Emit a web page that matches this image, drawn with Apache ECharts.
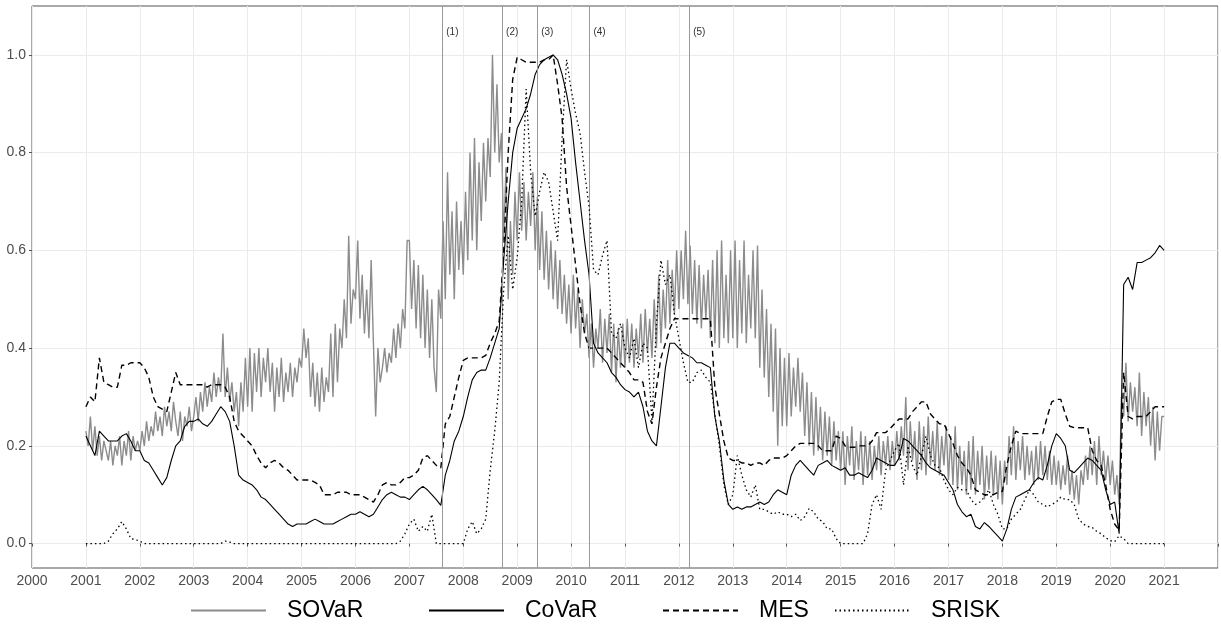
<!DOCTYPE html>
<html>
<head>
<meta charset="utf-8">
<title>SOVaR CoVaR MES SRISK</title>
<script src="https://cdn.jsdelivr.net/npm/echarts@6/dist/echarts.min.js"></script>
<style>
  html, body { margin: 0; padding: 0; background: #fff; }
  #main { width: 1221px; height: 629px; }
</style>
</head>
<body>
<div id="main"></div>
<script>
// series values
// SOVaR: 24 points per year from 2001.0, last point is 2021.0
var sovar = [
  0.23,0.20,0.26,0.19,0.24,0.18,0.22,0.17,0.21,0.19,0.17,0.21,0.16,0.20,0.18,0.22,0.16,0.21,0.18,0.23,0.17,0.22,0.19,0.21, // 2001
  0.19,0.23,0.20,0.25,0.21,0.24,0.22,0.27,0.23,0.26,0.22,0.28,0.24,0.27,0.23,0.29,0.25,0.22,0.27,0.21,0.26,0.24,0.28,0.23, // 2002
  0.26,0.30,0.25,0.31,0.27,0.33,0.28,0.32,0.29,0.35,0.30,0.34,0.31,0.43,0.30,0.36,0.29,0.33,0.27,0.31,0.24,0.33,0.27,0.38, // 2003
  0.28,0.40,0.27,0.39,0.31,0.40,0.30,0.38,0.33,0.40,0.31,0.37,0.27,0.36,0.30,0.38,0.29,0.35,0.31,0.37,0.30,0.36,0.33,0.38, // 2004
  0.36,0.44,0.38,0.42,0.30,0.37,0.28,0.35,0.27,0.36,0.29,0.34,0.31,0.43,0.30,0.45,0.33,0.44,0.40,0.50,0.42,0.63,0.45,0.52, // 2005
  0.50,0.62,0.46,0.55,0.43,0.52,0.42,0.58,0.41,0.26,0.40,0.33,0.36,0.40,0.35,0.39,0.37,0.44,0.38,0.45,0.40,0.48,0.44,0.62, // 2006
  0.62,0.48,0.58,0.44,0.57,0.42,0.55,0.40,0.52,0.38,0.50,0.36,0.31,0.52,0.46,0.66,0.50,0.76,0.55,0.68,0.50,0.70,0.56,0.66, // 2007
  0.55,0.72,0.58,0.80,0.62,0.83,0.60,0.78,0.66,0.82,0.70,0.83,0.75,1.00,0.80,0.94,0.78,0.84,0.62,0.77,0.50,0.66,0.55,0.72, // 2008
  0.62,0.76,0.64,0.74,0.62,0.72,0.65,0.76,0.60,0.71,0.56,0.68,0.54,0.64,0.52,0.62,0.50,0.60,0.48,0.58,0.47,0.55,0.45,0.53, // 2009
  0.43,0.55,0.44,0.52,0.40,0.50,0.43,0.47,0.38,0.45,0.36,0.44,0.40,0.48,0.37,0.46,0.39,0.47,0.35,0.45,0.33,0.44,0.36,0.45, // 2010
  0.36,0.46,0.37,0.45,0.36,0.44,0.38,0.47,0.37,0.48,0.39,0.46,0.38,0.50,0.40,0.55,0.41,0.52,0.44,0.58,0.45,0.56,0.47,0.60, // 2011
  0.48,0.60,0.50,0.64,0.49,0.61,0.47,0.58,0.45,0.57,0.44,0.55,0.46,0.56,0.42,0.58,0.41,0.60,0.40,0.62,0.42,0.55,0.41,0.60, // 2012
  0.42,0.62,0.40,0.58,0.43,0.62,0.41,0.55,0.44,0.60,0.42,0.61,0.36,0.52,0.34,0.48,0.30,0.45,0.27,0.44,0.20,0.40,0.24,0.38, // 2013
  0.24,0.39,0.26,0.36,0.28,0.38,0.27,0.35,0.22,0.33,0.20,0.31,0.18,0.30,0.19,0.28,0.17,0.27,0.18,0.26,0.16,0.25,0.17,0.23, // 2014
  0.15,0.23,0.12,0.22,0.16,0.24,0.13,0.21,0.15,0.23,0.12,0.22,0.14,0.21,0.13,0.20,0.15,0.22,0.14,0.21,0.16,0.22,0.15,0.21, // 2015
  0.16,0.23,0.17,0.24,0.18,0.30,0.15,0.25,0.17,0.23,0.13,0.25,0.15,0.24,0.14,0.26,0.16,0.23,0.15,0.25,0.14,0.22,0.16,0.24, // 2016
  0.13,0.22,0.12,0.24,0.11,0.20,0.12,0.19,0.10,0.21,0.11,0.22,0.10,0.19,0.12,0.20,0.09,0.18,0.11,0.19,0.10,0.18,0.09,0.17, // 2017
  0.08,0.17,0.12,0.22,0.14,0.24,0.13,0.21,0.15,0.22,0.13,0.20,0.14,0.19,0.12,0.20,0.13,0.21,0.14,0.20,0.13,0.19,0.12,0.18, // 2018
  0.12,0.17,0.11,0.16,0.12,0.18,0.10,0.15,0.09,0.14,0.08,0.15,0.12,0.18,0.13,0.20,0.14,0.21,0.12,0.22,0.14,0.19,0.13,0.18, // 2019
  0.12,0.17,0.10,0.14,0.08,0.30,0.26,0.37,0.25,0.33,0.27,0.32,0.24,0.35,0.22,0.31,0.24,0.30,0.20,0.28,0.17,0.27,0.19,0.26, // 2020
  0.26
];

// CoVaR, MES, SRISK: 12 points per year from 2001.0, last point is 2021.0
var covar = [
  0.22,0.20,0.18,0.23,0.22,0.21,0.21,0.21,0.22,0.225,0.21,0.19,      // 2001
  0.19,0.17,0.165,0.15,0.135,0.12,0.135,0.17,0.20,0.21,0.24,0.25,    // 2002
  0.25,0.255,0.245,0.24,0.25,0.265,0.28,0.27,0.25,0.20,0.14,0.13,    // 2003
  0.125,0.12,0.11,0.095,0.09,0.08,0.07,0.06,0.05,0.04,0.035,0.04,    // 2004
  0.04,0.04,0.045,0.05,0.045,0.04,0.04,0.04,0.045,0.05,0.055,0.06,   // 2005
  0.06,0.065,0.06,0.055,0.06,0.075,0.09,0.10,0.105,0.10,0.095,0.095, // 2006
  0.09,0.10,0.11,0.117,0.11,0.10,0.09,0.078,0.14,0.17,0.21,0.23,     // 2007
  0.26,0.30,0.335,0.35,0.355,0.355,0.38,0.41,0.44,0.58,0.70,0.80,    // 2008
  0.85,0.87,0.89,0.92,0.96,0.98,0.99,0.995,1.0,0.99,0.96,0.92,       // 2009
  0.87,0.78,0.70,0.62,0.55,0.41,0.39,0.38,0.37,0.35,0.34,0.325,      // 2010
  0.315,0.31,0.30,0.31,0.28,0.23,0.21,0.20,0.28,0.36,0.41,0.41,      // 2011
  0.40,0.39,0.385,0.38,0.37,0.37,0.365,0.36,0.26,0.21,0.13,0.08,     // 2012
  0.07,0.075,0.07,0.075,0.075,0.08,0.085,0.08,0.085,0.10,0.11,0.105, // 2013
  0.10,0.14,0.16,0.17,0.16,0.15,0.14,0.16,0.165,0.17,0.16,0.155,     // 2014
  0.15,0.155,0.14,0.14,0.145,0.14,0.135,0.15,0.175,0.17,0.165,0.16,  // 2015
  0.16,0.175,0.215,0.21,0.20,0.19,0.18,0.165,0.155,0.15,0.145,0.14,  // 2016
  0.125,0.11,0.08,0.065,0.055,0.06,0.035,0.03,0.043,0.035,0.025,0.015, // 2017
  0.005,0.03,0.07,0.095,0.10,0.105,0.11,0.125,0.135,0.13,0.16,0.20,  // 2018
  0.225,0.215,0.20,0.15,0.145,0.155,0.165,0.175,0.17,0.16,0.15,0.11, // 2019
  0.08,0.085,0.02,0.53,0.545,0.52,0.575,0.575,0.58,0.585,0.595,0.61, // 2020
  0.60
];

var mes = [
  0.28,0.30,0.29,0.38,0.33,0.325,0.32,0.32,0.365,0.365,0.37,0.37,    // 2001
  0.37,0.36,0.34,0.30,0.28,0.275,0.27,0.31,0.35,0.325,0.325,0.325,   // 2002
  0.325,0.325,0.325,0.32,0.325,0.325,0.325,0.32,0.30,0.25,0.23,0.22, // 2003
  0.21,0.20,0.18,0.165,0.155,0.165,0.17,0.165,0.155,0.15,0.14,0.13,  // 2004
  0.13,0.13,0.13,0.125,0.12,0.10,0.10,0.10,0.105,0.105,0.105,0.10,   // 2005
  0.10,0.10,0.095,0.09,0.085,0.10,0.12,0.125,0.12,0.12,0.125,0.135,  // 2006
  0.135,0.14,0.15,0.175,0.18,0.17,0.16,0.155,0.245,0.26,0.30,0.34,   // 2007
  0.375,0.38,0.38,0.38,0.38,0.385,0.41,0.43,0.455,0.60,0.80,0.95,    // 2008
  0.995,0.99,0.985,0.985,0.985,0.985,0.99,0.99,1.0,0.94,0.87,0.73,   // 2009
  0.65,0.57,0.49,0.43,0.40,0.40,0.40,0.40,0.40,0.39,0.38,0.37,       // 2010
  0.36,0.35,0.335,0.335,0.33,0.27,0.245,0.32,0.38,0.41,0.44,0.46,    // 2011
  0.46,0.46,0.46,0.46,0.46,0.46,0.46,0.46,0.32,0.265,0.21,0.175,     // 2012
  0.17,0.17,0.165,0.165,0.16,0.165,0.165,0.16,0.17,0.175,0.175,0.175, // 2013
  0.18,0.19,0.20,0.205,0.205,0.205,0.205,0.20,0.19,0.19,0.19,0.22,   // 2014
  0.215,0.20,0.197,0.197,0.20,0.20,0.20,0.21,0.227,0.227,0.227,0.235, // 2015
  0.245,0.255,0.255,0.255,0.27,0.28,0.29,0.29,0.265,0.255,0.245,0.245, // 2016
  0.225,0.205,0.18,0.165,0.155,0.14,0.11,0.105,0.10,0.10,0.10,0.105, // 2017
  0.107,0.16,0.20,0.23,0.225,0.225,0.225,0.225,0.225,0.225,0.26,0.29, // 2018
  0.295,0.295,0.265,0.24,0.237,0.237,0.237,0.237,0.19,0.17,0.16,0.12, // 2019
  0.07,0.04,0.027,0.35,0.26,0.255,0.26,0.26,0.26,0.27,0.28,0.28,     // 2020
  0.28
];

var srisk = [
  0,0,0,0,0,0.005,0.02,0.03,0.045,0.03,0.01,0.008,                   // 2001
  0.005,0,0,0,0,0,0,0,0,0,0,0,                                       // 2002
  0,0,0,0,0,0,0,0.005,0.003,0,0,0,                                   // 2003
  0,0,0,0,0,0,0,0,0,0,0,0,                                           // 2004
  0,0,0,0,0,0,0,0,0,0,0,0,                                           // 2005
  0,0,0,0,0,0,0,0,0,0,0.005,0.02,                                    // 2006
  0.04,0.05,0.025,0.035,0.025,0.06,0,0,0,0,0,0,                      // 2007
  0,0.03,0.045,0.02,0.03,0.05,0.15,0.23,0.33,0.52,0.63,0.52,         // 2008
  0.585,0.70,0.93,0.76,0.67,0.72,0.76,0.74,0.68,0.62,0.83,0.99,      // 2009
  0.93,0.88,0.84,0.76,0.69,0.56,0.55,0.59,0.62,0.43,0.42,0.45,       // 2010
  0.40,0.38,0.42,0.36,0.41,0.40,0.25,0.45,0.58,0.53,0.55,0.47,       // 2011
  0.42,0.37,0.33,0.33,0.35,0.355,0.34,0.33,0.265,0.20,0.12,0.08,     // 2012
  0.10,0.18,0.14,0.11,0.095,0.12,0.07,0.07,0.065,0.06,0.065,0.06,    // 2013
  0.06,0.055,0.06,0.047,0.055,0.072,0.065,0.05,0.045,0.03,0.03,0.01, // 2014
  0,0,0,0,0,0,0.02,0.08,0.10,0.07,0.15,0.17,                         // 2015
  0.19,0.205,0.12,0.20,0.16,0.14,0.18,0.22,0.18,0.16,0.155,0.13,     // 2016
  0.11,0.10,0.115,0.11,0.11,0.09,0.08,0.085,0.095,0.11,0.08,0.06,    // 2017
  0.03,0.03,0.05,0.06,0.07,0.09,0.11,0.10,0.085,0.08,0.075,0.08,     // 2018
  0.085,0.095,0.09,0.09,0.08,0.05,0.04,0.035,0.033,0.025,0.02,0.012, // 2019
  0.006,0.004,0.016,0.01,0,0,0,0,0,0,0,0,                            // 2020
  0
];

// event lines (1)-(5)
var eventX = [2007.61, 2008.72, 2009.37, 2010.34, 2012.19];
var eventLabels = ['(1)', '(2)', '(3)', '(4)', '(5)'];

// tick values of the y axis
var yTicks = [0, 0.2, 0.4, 0.6, 0.8, 1.0];

// values -> [year, value] pairs
function toPairs(values, start, perYear) {
    var out = [];
    for (var i = 0; i < values.length; i++) {
        out.push([start + i / perYear, values[i]]);
    }
    return out;
}

var font = "'Liberation Sans', Arial, sans-serif";

function legendAt(name, left) {
    return {
        data: [name],
        left: left,
        top: 594,
        itemWidth: 75,
        itemHeight: 14,
        selectedMode: false,
        // only the line, no symbol in the middle
        itemStyle: {opacity: 0},
        textStyle: {
            fontFamily: font,
            fontSize: 23,
            color: '#000',
            padding: [0, 0, 0, 16]
        }
    };
}

var myChart = echarts.init(document.getElementById('main'));

var option = {
    backgroundColor: '#fff',
    animation: false,
    legend: [
        legendAt('SOVaR', 185),
        legendAt('CoVaR', 423),
        legendAt('MES', 657),
        legendAt('SRISK', 829)
    ],
    grid: {
        left: 32,
        right: 2,
        top: 6,
        bottom: 61,
        show: true,
        borderColor: '#555',
        borderWidth: 1,
        containLabel: false
    },
    xAxis: {
        type: 'value',
        min: 2000,
        max: 2022,
        interval: 1,
        axisLine: {show: false},
        axisTick: {show: true, length: 3, lineStyle: {color: '#555'}},
        axisLabel: {
            margin: 6,
            color: '#4d4d4d',
            fontFamily: font,
            fontSize: 14,
            formatter: function (v) {
                return v === 2022 ? '' : String(v);
            }
        },
        splitLine: {show: true, lineStyle: {color: '#ebebeb', width: 1}}
    },
    yAxis: {
        type: 'value',
        min: -0.05,
        max: 1.1,
        axisLine: {show: false},
        axisTick: {show: true, length: 3, customValues: yTicks, lineStyle: {color: '#555'}},
        axisLabel: {
            margin: 6,
            color: '#4d4d4d',
            fontFamily: font,
            fontSize: 14,
            customValues: yTicks,
            formatter: function (v) {
                return v.toFixed(1);
            }
        },
        splitLine: {show: true, lineStyle: {color: '#ebebeb', width: 1}}
    },
    series: [
        {
            name: 'SOVaR',
            type: 'line',
            symbol: 'none',
            data: toPairs(sovar, 2001, 24),
            lineStyle: {color: '#8c8c8c', width: 1.4},
            itemStyle: {color: '#8c8c8c'},
            z: 2,
            markLine: {
                silent: true,
                symbol: 'none',
                label: {show: false},
                lineStyle: {color: '#999', width: 1, type: 'solid'},
                data: eventX.map(function (x) { return {xAxis: x}; })
            },
            markPoint: {
                silent: true,
                symbol: 'circle',
                symbolSize: 0,
                label: {
                    show: true,
                    position: 'right',
                    distance: 4,
                    color: '#333',
                    fontFamily: font,
                    fontSize: 10,
                    formatter: '{b}'
                },
                data: eventX.map(function (x, i) {
                    return {name: eventLabels[i], coord: [x, 1.047]};
                })
            }
        },
        {
            name: 'CoVaR',
            type: 'line',
            symbol: 'none',
            data: toPairs(covar, 2001, 12),
            lineStyle: {color: '#000', width: 1.1},
            itemStyle: {color: '#000'},
            z: 3
        },
        {
            name: 'MES',
            type: 'line',
            symbol: 'none',
            data: toPairs(mes, 2001, 12),
            lineStyle: {color: '#000', width: 1.4, type: [6, 4]},
            itemStyle: {color: '#000'},
            z: 4
        },
        {
            name: 'SRISK',
            type: 'line',
            symbol: 'none',
            data: toPairs(srisk, 2001, 12),
            lineStyle: {color: '#000', width: 1.3, type: [1.5, 3]},
            itemStyle: {color: '#000'},
            z: 5
        }
    ]
};

myChart.setOption(option);
window.onresize = function () {
    myChart.resize();
};
</script>
</body>
</html>
